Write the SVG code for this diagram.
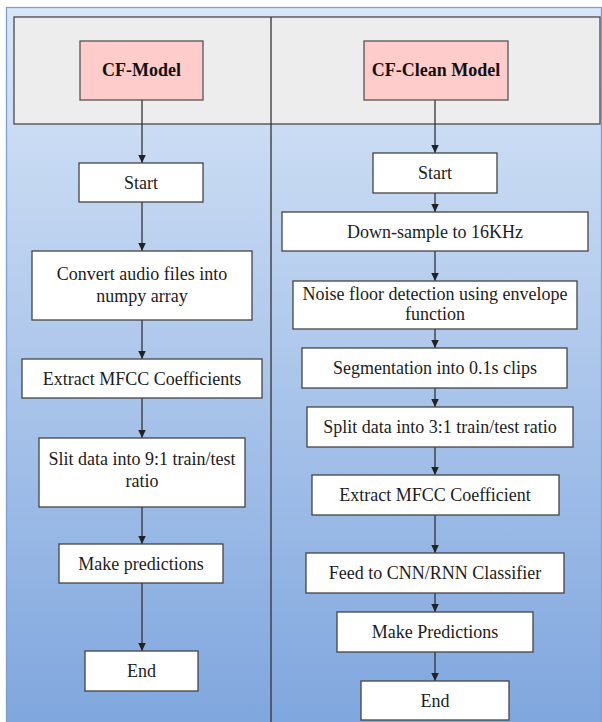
<svg xmlns="http://www.w3.org/2000/svg" width="602" height="722" viewBox="0 0 602 722">
  <defs>
    <linearGradient id="bg" x1="0" y1="0" x2="0" y2="1">
      <stop offset="0" stop-color="#dae7f8"/>
      <stop offset="1" stop-color="#7fa6de"/>
    </linearGradient>
    <marker id="arr" markerUnits="userSpaceOnUse" markerWidth="9" markerHeight="8" refX="8" refY="3.75" orient="auto">
      <path d="M0,0 L8,3.75 L0,7.5 z" fill="#222"/>
    </marker>
    <style>
      .box{fill:#ffffff;stroke:#444;stroke-width:1.3}
      .head{fill:#ffcccc;stroke:#555;stroke-width:1.3}
      .t{font-family:"Liberation Serif","Times New Roman",serif;font-size:18px;fill:#1c1c1c;text-anchor:middle}
      .tb{font-family:"Liberation Serif","Times New Roman",serif;font-size:18px;font-weight:bold;fill:#111;text-anchor:middle}
      .c{stroke:#333;stroke-width:1.3;fill:none;marker-end:url(#arr)}
    </style>
  </defs>
  <rect x="0" y="0" width="602" height="722" fill="#ffffff"/>
  <rect id="frame" x="6.5" y="7.5" width="595" height="720" fill="url(#bg)" stroke="#7f9fcf" stroke-width="1.3"/>
  <rect id="header" x="14" y="17" width="586" height="107" fill="#ededed" stroke="#4a4a4a" stroke-width="1.3"/>
  <line id="divider" x1="271" y1="17" x2="271" y2="722" stroke="#333" stroke-width="1.3"/>

  <g id="connectors">
    <line class="c" x1="142" y1="100" x2="142" y2="163"/>
    <line class="c" x1="142" y1="202" x2="142" y2="251"/>
    <line class="c" x1="142" y1="320" x2="142" y2="359"/>
    <line class="c" x1="142" y1="398" x2="142" y2="438"/>
    <line class="c" x1="142" y1="507" x2="142" y2="544"/>
    <line class="c" x1="142" y1="583" x2="142" y2="651"/>
    <line class="c" x1="435" y1="100" x2="435" y2="153"/>
    <line class="c" x1="435" y1="193" x2="435" y2="212"/>
    <line class="c" x1="435" y1="251" x2="435" y2="281"/>
    <line class="c" x1="435" y1="329" x2="435" y2="348"/>
    <line class="c" x1="435" y1="388" x2="435" y2="407"/>
    <line class="c" x1="435" y1="447" x2="435" y2="475"/>
    <line class="c" x1="435" y1="515" x2="435" y2="553"/>
    <line class="c" x1="435" y1="593" x2="435" y2="612"/>
    <line class="c" x1="435" y1="652" x2="435" y2="681"/>
  </g>

  <g id="cf-model">
    <rect class="head" x="80" y="41" width="123" height="59"/>
    <text class="tb" x="141.5" y="76">CF-Model</text>
  </g>
  <g id="cf-clean-model">
    <rect class="head" x="364" y="41" width="144" height="59"/>
    <text class="tb" x="436" y="76">CF-Clean Model</text>
  </g>

  <g id="l-start">
    <rect class="box" x="79" y="163" width="124" height="39"/>
    <text class="t" x="141" y="189">Start</text>
  </g>
  <g id="l-convert">
    <rect class="box" x="32" y="251" width="220" height="69"/>
    <text class="t" x="142" y="280">Convert audio files into</text>
    <text class="t" x="142" y="302">numpy array</text>
  </g>
  <g id="l-extract">
    <rect class="box" x="22" y="359" width="240" height="39"/>
    <text class="t" x="142" y="385">Extract MFCC Coefficients</text>
  </g>
  <g id="l-split">
    <rect class="box" x="39" y="438" width="206" height="69"/>
    <text class="t" x="142" y="465">Slit data into 9:1 train/test</text>
    <text class="t" x="142" y="487">ratio</text>
  </g>
  <g id="l-predict">
    <rect class="box" x="59" y="544" width="164" height="39"/>
    <text class="t" x="141" y="570">Make predictions</text>
  </g>
  <g id="l-end">
    <rect class="box" x="85" y="651" width="113" height="40"/>
    <text class="t" x="141.5" y="677">End</text>
  </g>

  <g id="r-start">
    <rect class="box" x="373" y="153" width="124" height="40"/>
    <text class="t" x="435" y="179">Start</text>
  </g>
  <g id="r-downsample">
    <rect class="box" x="282" y="212" width="306" height="39"/>
    <text class="t" x="435" y="238">Down-sample to 16KHz</text>
  </g>
  <g id="r-noise">
    <rect class="box" x="293" y="281" width="284" height="48"/>
    <text class="t" x="435" y="300">Noise floor detection using envelope</text>
    <text class="t" x="435" y="320">function</text>
  </g>
  <g id="r-segment">
    <rect class="box" x="302" y="348" width="265" height="40"/>
    <text class="t" x="435" y="374">Segmentation into 0.1s clips</text>
  </g>
  <g id="r-split">
    <rect class="box" x="307" y="407" width="266" height="40"/>
    <text class="t" x="440" y="433">Split data into 3:1 train/test ratio</text>
  </g>
  <g id="r-extract">
    <rect class="box" x="312" y="475" width="247" height="40"/>
    <text class="t" x="435" y="501">Extract MFCC Coefficient</text>
  </g>
  <g id="r-feed">
    <rect class="box" x="306" y="553" width="258" height="40"/>
    <text class="t" x="435" y="579">Feed to CNN/RNN Classifier</text>
  </g>
  <g id="r-predict">
    <rect class="box" x="337" y="612" width="196" height="40"/>
    <text class="t" x="435" y="638">Make Predictions</text>
  </g>
  <g id="r-end">
    <rect class="box" x="361" y="681" width="148" height="39"/>
    <text class="t" x="435" y="707">End</text>
  </g>
</svg>
